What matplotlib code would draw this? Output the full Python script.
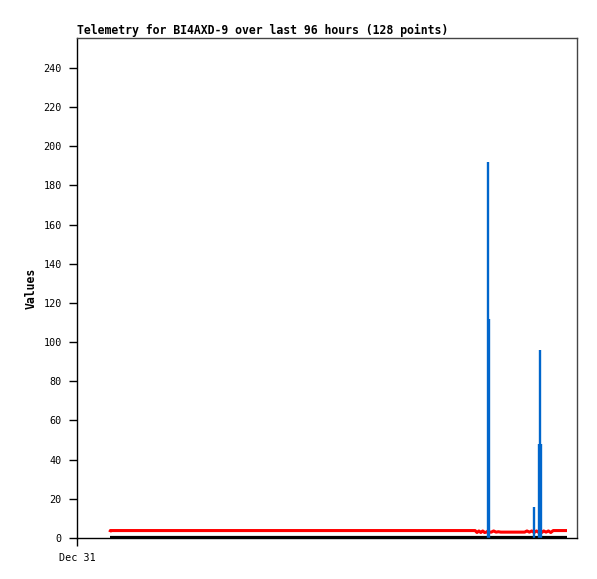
import matplotlib
matplotlib.use("Agg")
import matplotlib.pyplot as plt

# hours since Dec 31 00:00
times = [6.9, 7.0, 20.0, 40.0, 60.0, 80.0, 83.6, 84.0, 84.4, 84.8, 85.2, 85.6, 86.0, 86.3, 86.5,
         87.0, 87.5, 88.0, 88.5, 89.0, 90.0, 91.0, 92.0, 93.0, 94.0, 94.5, 95.0, 95.5, 96.0,
         96.5, 97.0, 97.3, 97.6, 98.0, 98.5, 99.0, 99.5, 100.0, 101.0, 102.0, 102.9]
red_vals = [3.0, 3.8, 3.8, 3.8, 3.8, 3.8, 3.8, 2.8, 3.6, 2.8, 3.6, 2.8, 3.0, 3.6, 3.0,
            3.0, 3.6, 3.0, 3.2, 3.0, 3.0, 3.0, 3.0, 3.0, 3.0, 3.6, 3.0, 3.6, 2.8,
            3.6, 2.8, 3.6, 2.8, 3.6, 3.0, 3.6, 2.8, 3.8, 3.8, 3.8, 3.8]
black_vals = [0.5] * len(times)
spike_times = [86.3, 86.45, 96.0, 97.1, 97.3, 97.45]
spike_vals = [192, 112, 16, 48, 96, 48]

ytick_vals = list(range(0, 241, 20))
xtick_vals = [0]
xtick_labels = ["Dec 31"]

mono = "DejaVu Sans Mono"
fig = plt.figure(figsize=(5.97, 5.79), dpi=100)
ax = fig.add_axes([77/597, 1-538/579, 500/597, 500/579])

ax.plot(times, black_vals, color="black", lw=1.6, solid_capstyle="butt")
ax.plot(times, red_vals, color="#ff0000", lw=2.2, solid_capstyle="butt")
ax.vlines(spike_times, 0, spike_vals, color="#0066cc", lw=1.7)

ax.set_xlim(0, 105)
ax.set_ylim(0, 255.3)
ax.set_yticks(ytick_vals)
ax.set_yticklabels([str(v) for v in ytick_vals], family=mono, fontsize=7.3)
ax.set_xticks(xtick_vals)
ax.set_xticklabels(xtick_labels, family=mono, fontsize=7.3)
ax.tick_params(axis="both", direction="out", length=6, width=1, pad=5, colors="black")

for s in ["left", "bottom"]:
    ax.spines[s].set_color("black")
for s in ["right", "top"]:
    ax.spines[s].set_color("#444444")
for s in ax.spines.values():
    s.set_linewidth(1.0)

ax.set_title("Telemetry for BI4AXD-9 over last 96 hours (128 points)", loc="left",
             family=mono, fontsize=8.3, fontweight="bold", pad=3)
ax.set_ylabel("Values", family=mono, fontsize=8.3, fontweight="bold", labelpad=4)

fig.savefig("out.png", dpi=100, facecolor="white")
